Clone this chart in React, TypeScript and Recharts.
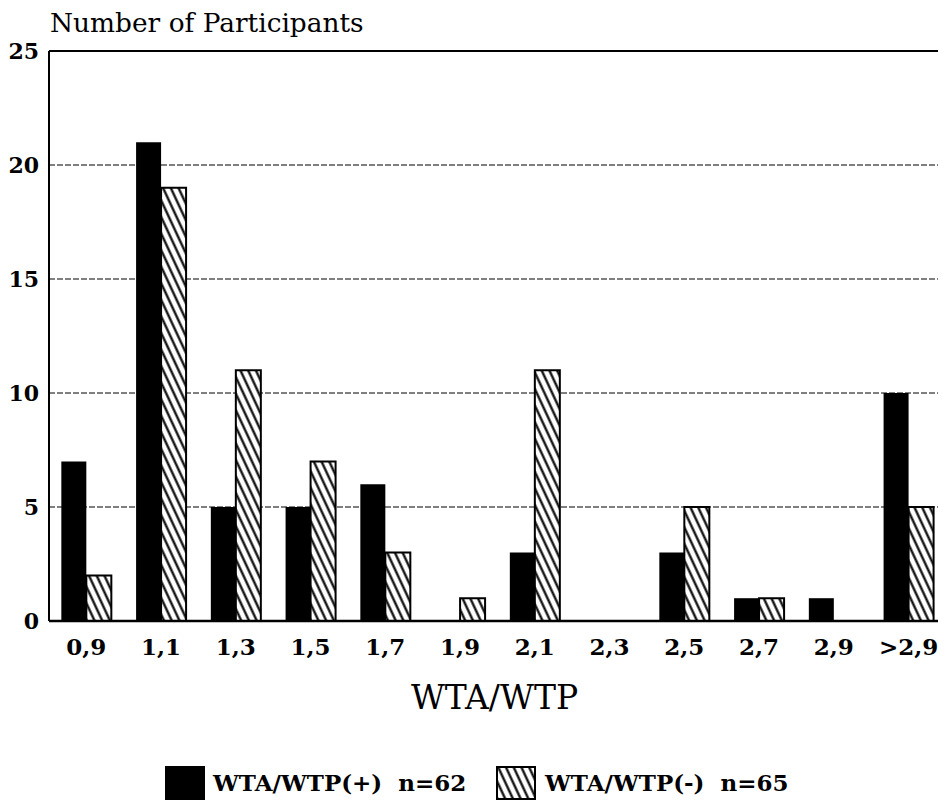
import React from 'react';
import { BarChart, Bar, XAxis, YAxis, CartesianGrid, ReferenceLine, Legend } from 'recharts';

const categories = ['0,9', '1,1', '1,3', '1,5', '1,7', '1,9', '2,1', '2,3', '2,5', '2,7', '2,9', '>2,9'];
const positiveCounts = [7, 21, 5, 5, 6, 0, 3, 0, 3, 1, 1, 10];
const negativeCounts = [2, 19, 11, 7, 3, 1, 11, 0, 5, 1, 0, 5];
const yTicks = [0, 5, 10, 15, 20, 25];
const seriesNames = ['WTA/WTP(+)  n=62', 'WTA/WTP(-)  n=65'];
const xAxisTitle = 'WTA/WTP';
const yAxisTitle = 'Number of Participants';

const data = categories.map((c, i) => ({ category: c, pos: positiveCounts[i], neg: negativeCounts[i] }));

const FONT = '"DejaVu Serif", serif';

const XTick = (props: any) => {
  const { x, y, payload } = props;
  return (
    <text x={x} y={y + 34} textAnchor="middle" fontFamily={FONT} fontWeight="bold" fontSize={23} fill="#000">
      {payload.value}
    </text>
  );
};

const YTick = (props: any) => {
  const { x, y, payload } = props;
  return (
    <text x={x - 10} y={y + 8} textAnchor="end" fontFamily={FONT} fontWeight="bold" fontSize={22} fill="#000">
      {payload.value}
    </text>
  );
};

const XTitle = (props: any) => {
  const vb = props.viewBox || {};
  return (
    <text x={vb.x + vb.width / 2 - 3} y={vb.y + 88} textAnchor="middle" fontFamily={FONT} fontSize={33} fill="#000">
      {xAxisTitle}
    </text>
  );
};

const YTitle = (props: any) => {
  const vb = props.viewBox || {};
  return (
    <text x={vb.x + vb.width + 1} y={vb.y - 19} textAnchor="start" fontFamily={FONT} fontSize={26.4} fill="#000">
      {yAxisTitle}
    </text>
  );
};

const LegendContent = () => (
  <div style={{ position: 'relative', width: 938, height: 50, fontFamily: FONT, fontWeight: 'bold', fontSize: 23, color: '#000' }}>
    <svg width={40} height={34} style={{ position: 'absolute', left: 157, top: 11 }}>
      <rect x={0} y={0} width={40} height={34} fill="#000" />
    </svg>
    <div style={{ position: 'absolute', left: 205, top: 10, lineHeight: '36px', whiteSpace: 'pre' }}>{seriesNames[0]}</div>
    <svg width={40} height={34} style={{ position: 'absolute', left: 488, top: 11 }}>
      <rect x={1} y={1} width={38} height={32} fill="url(#hatch)" stroke="#000" strokeWidth={2} />
    </svg>
    <div style={{ position: 'absolute', left: 537, top: 10, lineHeight: '36px', whiteSpace: 'pre' }}>{seriesNames[1]}</div>
  </div>
);

export default function App() {
  return (
    <div style={{ position: 'relative', width: 938, height: 797 }}>
      <svg width={0} height={0} style={{ position: 'absolute' }}>
        <defs>
          <pattern id="hatch" patternUnits="userSpaceOnUse" width={7} height={7} patternTransform="rotate(-25)">
            <rect x={0} y={0} width={7} height={7} fill="#fff" />
            <line x1={1.5} y1={0} x2={1.5} y2={7} stroke="#000" strokeWidth={2.2} />
          </pattern>
        </defs>
      </svg>
      <BarChart
        width={938}
        height={797}
        data={data}
        margin={{ top: 43, right: 0, bottom: 0, left: 0 }}
        barCategoryGap="16.5%"
        barGap={0}
      >
        <CartesianGrid vertical={false} stroke="#000" strokeDasharray="6 2" strokeWidth={1} />
        <XAxis
          dataKey="category"
          height={134}
          tick={<XTick />}
          tickLine={false}
          tickSize={0}
          tickMargin={0}
          axisLine={{ stroke: '#000', strokeWidth: 2.5 }}
          interval={0}
          label={<XTitle />}
        />
        <YAxis
          width={41}
          domain={[0, 25]}
          ticks={yTicks}
          tick={<YTick />}
          tickLine={false}
          tickSize={0}
          tickMargin={0}
          axisLine={{ stroke: '#000', strokeWidth: 2 }}
          interval={0}
          label={<YTitle />}
        />
        <ReferenceLine y={25} stroke="#000" strokeWidth={2} />
        <Legend verticalAlign="bottom" height={50} content={<LegendContent />} wrapperStyle={{ left: 0, bottom: 0, width: 938, height: 50 }} />
        <Bar dataKey="pos" name={seriesNames[0]} fill="#000" isAnimationActive={false} />
        <Bar dataKey="neg" name={seriesNames[1]} fill="url(#hatch)" stroke="#000" strokeWidth={2} isAnimationActive={false} />
      </BarChart>
    </div>
  );
}
